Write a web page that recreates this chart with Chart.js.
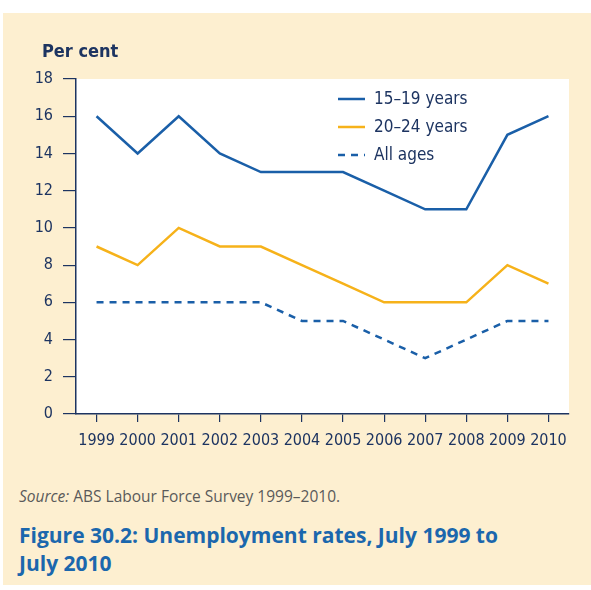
<!DOCTYPE html>
<html>
<head>
<meta charset="utf-8">
<script src="https://cdn.jsdelivr.net/npm/chart.js@4.4.1/dist/chart.umd.min.js"></script>
<style>
  body { margin: 0; background: #fff; width: 591px; height: 590px; overflow: hidden; }
  #panel { position: absolute; left: 3px; top: 13px; width: 588px; height: 572px; background: #fdefd0; }
  #wrap { position: absolute; left: 0; top: 0; width: 591px; height: 470px; }
  #unit { position: absolute; left: 42px; top: 40px; font: bold 18px "DejaVu Sans Condensed", "Liberation Sans", sans-serif; color: #1d3461; }
  #source { position: absolute; left: 19px; top: 485px; font: 15.5px "Open Sans", sans-serif; color: #5a5a5a; }
  #title { position: absolute; left: 19px; top: 521px; font: bold 21px/28px "Open Sans", sans-serif; color: #1b67ad; }
</style>
</head>
<body>
<div id="panel"></div>
<div id="wrap"><canvas id="unemploymentChart" width="591" height="470"></canvas></div>
<div id="unit">Per cent</div>
<div id="source"><i>Source:</i> ABS Labour Force Survey 1999–2010.</div>
<div id="title">Figure 30.2: Unemployment rates, July 1999 to<br>July 2010</div>
<script>
const years = ['1999', '2000', '2001', '2002', '2003', '2004', '2005', '2006', '2007', '2008', '2009', '2010'];
const teens = [16, 14, 16, 14, 13, 13, 13, 12, 11, 11, 15, 16];
const youngAdults = [9, 8, 10, 9, 9, 8, 7, 6, 6, 6, 8, 7];
const allAges = [6, 6, 6, 6, 6, 5, 5, 4, 3, 4, 5, 5];
const yTicks = [0, 2, 4, 6, 8, 10, 12, 14, 16, 18];

const navy = '#1d3461';
const axisFont = { family: '"DejaVu Sans Condensed", "Liberation Sans", sans-serif', size: 16 };

// white plot area on the beige panel
const plotBackground = {
    id: 'plotBackground',
    beforeDraw(chart) {
        const { ctx, chartArea: a } = chart;
        ctx.save();
        ctx.fillStyle = '#ffffff';
        ctx.fillRect(a.left, a.top, a.right - a.left, a.bottom - a.top);
        ctx.restore();
    }
};

// legend drawn inside the plot, top right
const innerLegend = {
    id: 'innerLegend',
    afterDraw(chart) {
        const ctx = chart.ctx;
        const x = 338, y0 = 99, step = 28;
        ctx.save();
        chart.data.datasets.forEach((ds, i) => {
            const y = y0 + i * step;
            ctx.beginPath();
            ctx.strokeStyle = ds.borderColor;
            ctx.lineWidth = ds.borderWidth;
            ctx.setLineDash(ds.borderDash || []);
            ctx.moveTo(x, y);
            ctx.lineTo(x + 27, y);
            ctx.stroke();
            ctx.setLineDash([]);
            ctx.fillStyle = navy;
            ctx.font = '17px ' + axisFont.family;
            ctx.textBaseline = 'middle';
            ctx.fillText(ds.label, x + 36, y + 1);
        });
        ctx.restore();
    }
};

function initChart() {
    const ctx = document.getElementById('unemploymentChart').getContext('2d');
    new Chart(ctx, {
        type: 'line',
        data: {
            labels: years,
            datasets: [
                { label: '15–19 years', data: teens, borderColor: '#1a5fa8', borderWidth: 2.5 },
                { label: '20–24 years', data: youngAdults, borderColor: '#f6b21a', borderWidth: 2.5 },
                { label: 'All ages', data: allAges, borderColor: '#1a5fa8', borderWidth: 2.5, borderDash: [7, 6] }
            ]
        },
        options: {
            responsive: false,
            animation: false,
            elements: { point: { radius: 0 }, line: { tension: 0, borderCapStyle: 'butt' } },
            layout: { padding: { left: 0, top: 79, right: 22, bottom: 16 } },
            plugins: { legend: { display: false }, tooltip: { enabled: false } },
            scales: {
                x: {
                    offset: true,
                    grid: { offset: false, drawOnChartArea: false, color: navy, tickLength: 8, lineWidth: 1.2 },
                    border: { color: navy, width: 1.5 },
                    ticks: { color: navy, font: axisFont, maxRotation: 0, autoSkip: false, padding: 9 },
                    afterFit(scale) { scale.height = 40; }
                },
                y: {
                    min: 0,
                    max: 18,
                    afterBuildTicks(scale) { scale.ticks = yTicks.map(v => ({ value: v })); },
                    grid: { drawOnChartArea: false, color: navy, tickLength: 13, lineWidth: 1.2 },
                    border: { color: navy, width: 1.5 },
                    ticks: { color: navy, font: axisFont, padding: 10 },
                    afterFit(scale) { scale.width = 76; }
                }
            }
        },
        plugins: [plotBackground, innerLegend]
    });
}

window.addEventListener('load', initChart);
</script>
</body>
</html>
